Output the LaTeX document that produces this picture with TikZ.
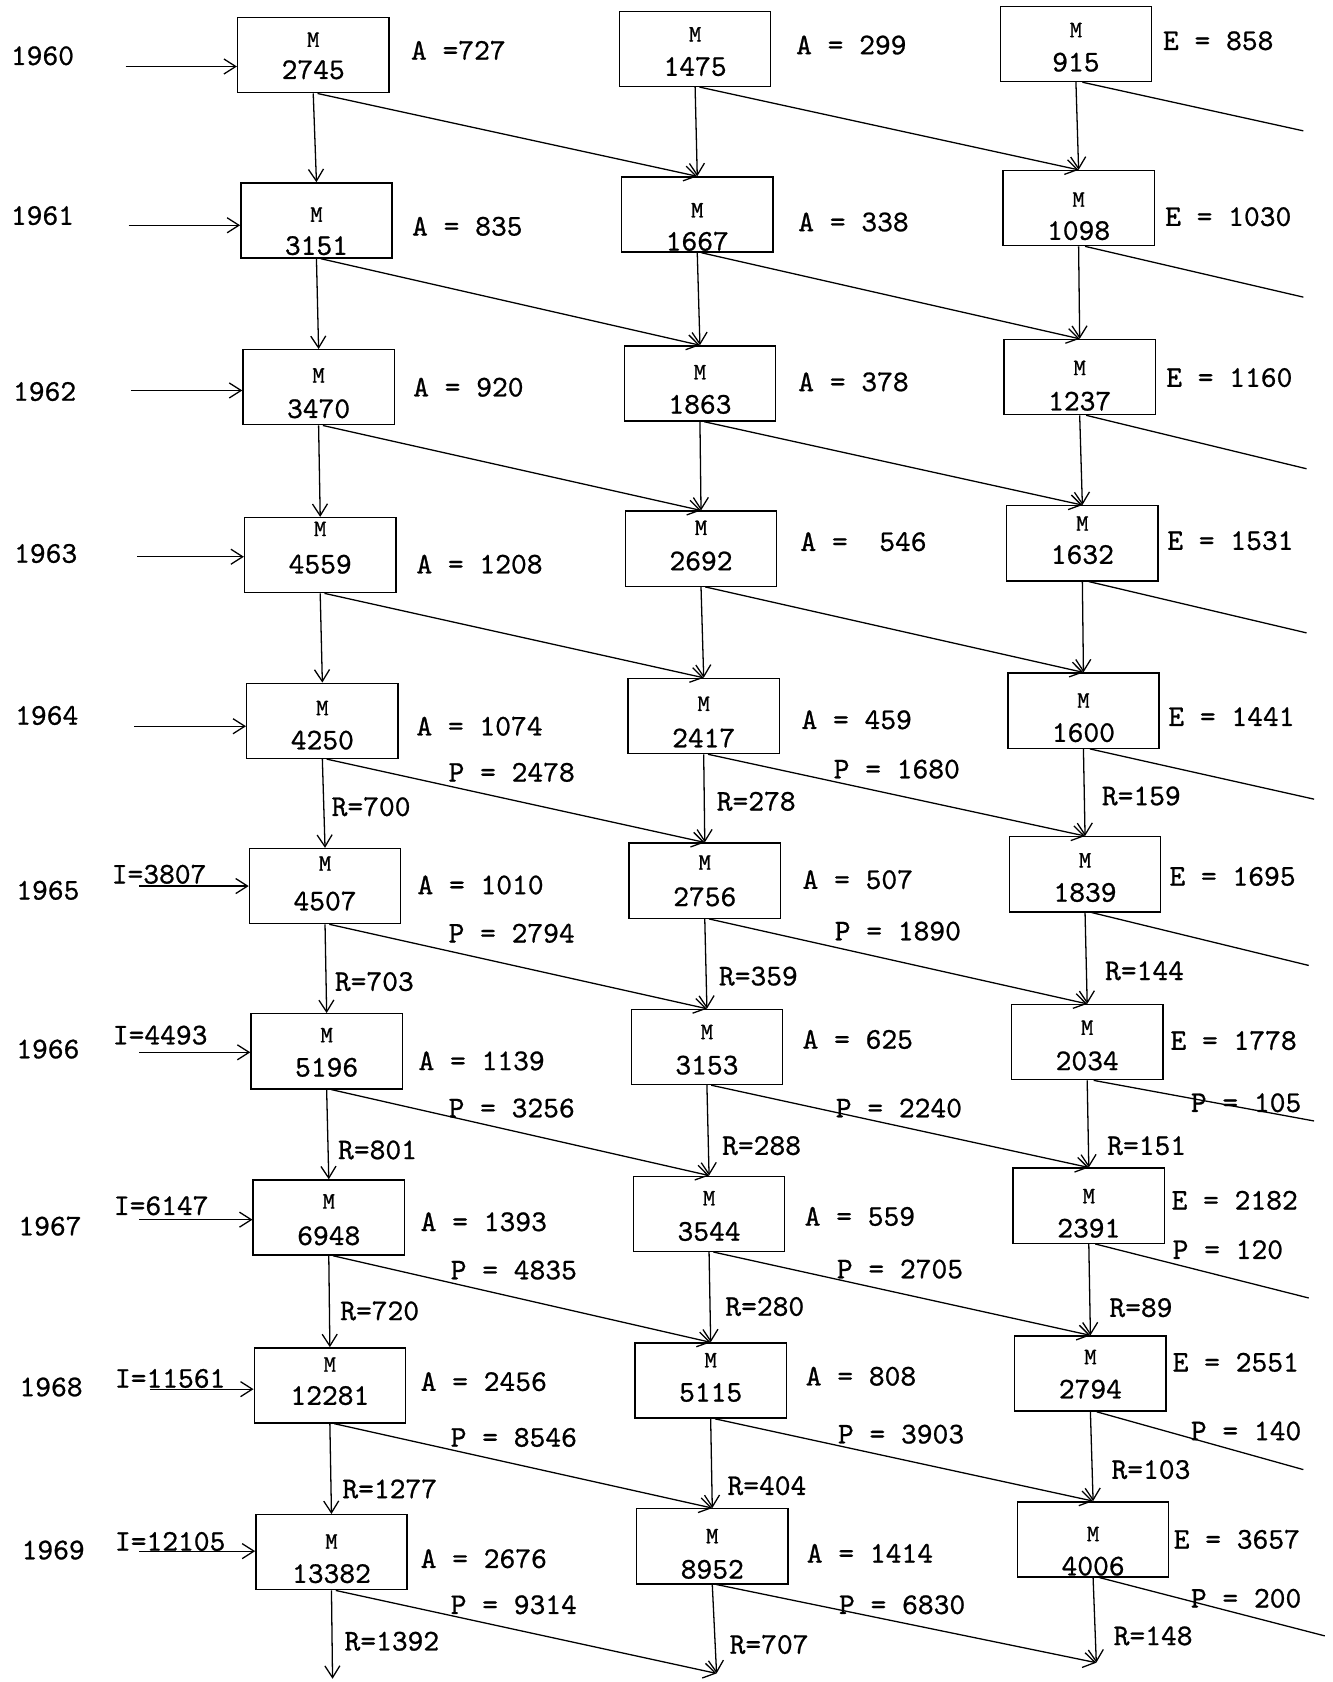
\documentclass[tikz,border=0pt]{standalone}
\usepackage{fontspec}
\setmonofont{lmmono10-regular.otf}[FakeBold=0.8]
\usetikzlibrary{arrows.meta}
\tikzset{
  boxn/.style={draw, line width=1.3pt, minimum width=141pt, minimum height=70pt, inner sep=0pt},
  mlab/.style={font=\fontsize{22}{24}\selectfont\ttfamily, inner sep=0pt},
  nlab/.style={font=\fontsize{28}{30}\selectfont\ttfamily, inner sep=0pt},
  lab/.style={font=\fontsize{28}{30}\selectfont\ttfamily, inner sep=0pt, anchor=west},
  conn/.style={line width=1.2pt, -{Straight Barb[length=11pt,width=14pt,line width=1.2pt]}},
  offl/.style={line width=1.2pt},
}
\begin{document}
\begin{tikzpicture}[x=1pt,y=-1pt]
\useasboundingbox (0,0) rectangle (1242,1568);
% boxes
\foreach \nm/\x/\y/\my/\ny/\v in {
10/292/51.5/37/65/2745, 11/295/205.5/200/229/3151, 12/297/361/350/381/3470,
13/298.5/517.5/493/526/4559, 14/300.5/672/660/690/4250, 15/303/826/805/840/4507,
16/304.5/980/965/995/5196, 17/306.5/1135/1120/1152/6948, 18/307.5/1291.5/1272/1301/12281,
19/309/1447/1437/1467/13382,
20/648/45.5/32/62/1475, 21/650/200/196/225/1667, 22/652.5/357.5/347/377/1863,
23/653.5/511.5/492/523/2692, 24/656/667.5/656/688/2417, 25/657/821/804/836/2756,
26/659/976/962/993/3153, 27/661/1131.5/1117/1148/3544, 28/662.5/1287/1268/1298/5115,
29/664/1441.5/1432/1463/8952,
30/1003/41/28/58/915, 31/1005.5/194/186/215/1098, 32/1006.5/351.5/343/374/1237,
33/1009/506.5/488/517/1632, 34/1010/662.5/653/683/1600, 35/1011.5/815/802/832/1839,
36/1013.5/971.5/958/989/2034, 37/1015/1124/1115/1145/2391, 38/1016.5/1280.5/1265/1295/2794,
39/1019/1435/1430/1460/4006}{
  \node[boxn] (b\nm) at (\x,\y) {};
  \node[mlab] (m\nm) at (\x,\my) {M};
  \node[nlab] (n\nm) at (\x,\ny) {\v};
}
% year labels
\foreach \nm/\x/\y/\t in {yr0/10/52/1960, yr1/10/201/1961, yr2/12/365/1962, yr3/13/516/1963,
  yr4/14/667/1964, yr5/15/830/1965, yr6/15/978/1966, yr7/17/1143/1967, yr8/18/1293/1968, yr9/20/1445/1969}
  {\node[lab] (\nm) at (\x,\y) {\t};}
% I labels
\foreach \nm/\x/\y/\t in {i5/104/815/I=3807, i6/105/965/I=4493, i7/106/1124/I=6147,
  i8/107/1285/I=11561, i9/107/1437/I=12105}
  {\node[lab] (\nm) at (\x,\y) {\t};}
% left inputs
\foreach \nm/\x/\y/\r in {s0/117/62/10, s1/120/210/11, s2/122/364/12, s3/128/519/13, s4/125/677/14,
  s5/130/826/15, s6/130/981/16, s7/130/1137/17, s8/140/1295/18, s9/130/1446/19}
  {\coordinate (\nm) at (\x,\y); \draw[conn] (\nm) -- (\nm -| b\r.west);}
% A / E labels
\foreach \nm/\x/\y/\t in {
a10/383/47/A =727, a11/384/211/A = 835, a12/385/361/A = 920, a13/388/526/A = 1208,
a14/388/677/A = 1074, a15/389/825/A = 1010, a16/390/989/A = 1139, a17/392/1139/A = 1393,
a18/392/1288/A = 2456, a19/392/1453/A = 2676,
a20/742/42/A = 299, a21/744/207/A = 338, a22/744/356/A = 378, a23/746/505/A =\ \ 546,
a24/747/671/A = 459, a25/748/820/A = 507, a26/748/969/A = 625, a27/750/1134/A = 559,
a28/751/1283/A = 808, a29/752/1448/A = 1414,
e30/1084/38/E = 858, e31/1086/202/E = 1030, e32/1087/352/E = 1160, e33/1088/504/E = 1531,
e34/1089/668/E = 1441, e35/1090/817/E = 1695, e36/1091/970/E = 1778, e37/1092/1119/E = 2182,
e38/1093/1270/E = 2551, e39/1094/1435/E = 3657}
  {\node[lab] (\nm) at (\x,\y) {\t};}
% P labels
\foreach \nm/\x/\y/\t in {
p14/418/720/P = 2478, p15/418/870/P = 2794, p16/418/1033/P = 3256, p17/420/1184/P = 4835,
p18/420/1340/P = 8546, p19/420/1496/P = 9314,
p24/777/717/P = 1680, p25/778/868/P = 1890, p26/779/1033/P = 2240, p27/780/1183/P = 2705,
p28/781/1337/P = 3903, p29/782/1496/P = 6830,
p36/1110/1028/P = 105, p37/1093/1165/P = 120, p38/1110/1334/P = 140, p39/1110/1490/P = 200}
  {\node[lab] (\nm) at (\x,\y) {\t};}
% R labels
\foreach \nm/\x/\y/\t in {
r14/309/752/R=700, r15/312/915/R=703, r16/315/1072/R=801, r17/317/1222/R=720,
r18/319/1388/R=1277, r19/321/1530/R=1392,
r24/668/747/R=278, r25/670/910/R=359, r26/673/1068/R=288, r27/676/1218/R=280,
r28/678/1385/R=404, r29/680/1533/R=707,
r34/1027/742/R=159, r35/1030/905/R=144, r36/1032/1068/R=151, r37/1034/1219/R=89,
r38/1036/1370/R=103, r39/1038/1525/R=148}
  {\node[lab] (\nm) at (\x,\y) {\t};}
% bottom ends
\coordinate (e1) at (310,1565);
\coordinate (e2) at (668,1560);
\coordinate (e3) at (1022,1550);
% vertical arrows
\foreach \c in {1,2,3}{
  \foreach \r [evaluate=\r as \n using int(\r+1)] in {0,...,8}{
    \draw[conn] (b\c\r.south) -- (b\c\n.north);
  }
  \draw[conn] (b\c9.south) -- (e\c);
}
% diagonal arrows
\foreach \r [evaluate=\r as \n using int(\r+1)] in {0,...,8}{
  \draw[conn] ([xshift=4pt]b1\r.south) -- (b2\n.north);
  \draw[conn] ([xshift=4pt]b2\r.south) -- (b3\n.north);
}
\draw[conn] ([xshift=4pt]b19.south) -- (e2);
\draw[conn] ([xshift=4pt]b29.south) -- (e3);
% off-page lines
\foreach \r/\x/\y in {0/1215/122, 1/1215/277, 2/1218/437, 3/1218/590, 4/1225/745,
  5/1220/900, 6/1225/1045, 7/1220/1210, 8/1215/1370, 9/1235/1525}{
  \coordinate (o\r) at (\x,\y);
  \draw[offl] ([xshift=6pt]b3\r.south) -- (o\r);
}
\end{tikzpicture}
\end{document}
